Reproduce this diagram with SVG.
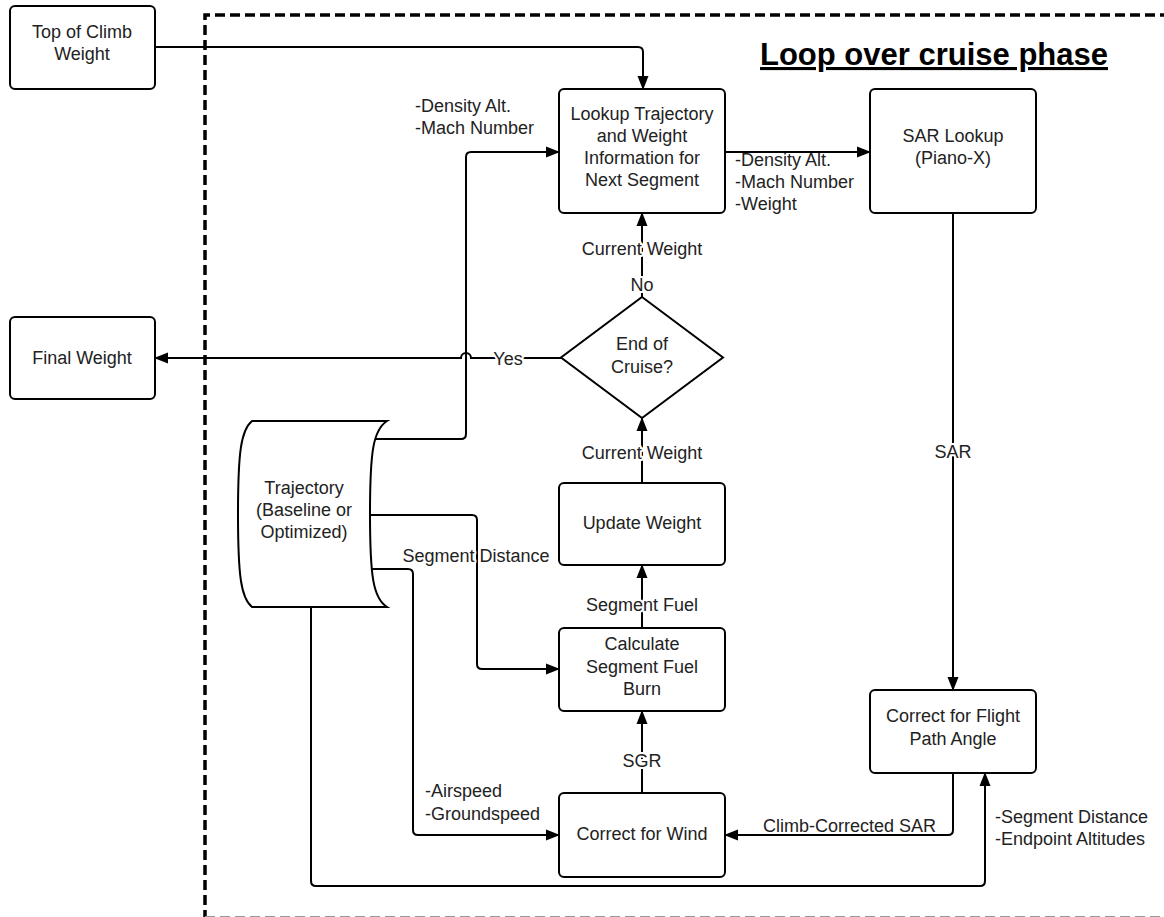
<svg xmlns="http://www.w3.org/2000/svg" width="1164" height="917" viewBox="0 0 1164 917">
<style>
.box{fill:#fff;stroke:#000;stroke-width:2}
.t{font-family:"Liberation Sans",Arial,sans-serif;font-size:18px;fill:#222;text-anchor:middle}
.l{font-family:"Liberation Sans",Arial,sans-serif;font-size:18px;fill:#222}
.h{stroke:#fff;stroke-width:4;paint-order:stroke;stroke-linejoin:round}
.c{fill:none;stroke:#000;stroke-width:2}
</style>
<defs>
<marker id="a" markerUnits="userSpaceOnUse" markerWidth="14" markerHeight="12" refX="13" refY="6" orient="auto">
<path d="M0,0.5 L14,6 L0,11.5 Z" fill="#000"/>
</marker>
</defs>
<rect width="1164" height="917" fill="#fff"/>
<path d="M205,920 V15 H1170" fill="none" stroke="#000" stroke-width="3.5" stroke-dasharray="10 5"/>
<path d="M205,916.8 H1170" fill="none" stroke="#999" stroke-width="1.5" stroke-dasharray="10 5"/>
<g id="title">
<text x="760" y="65" font-family="Liberation Sans,Arial,sans-serif" font-size="31" font-weight="bold" text-decoration="underline" fill="#000">Loop over cruise phase</text>
</g>
<g id="connectors">
<path class="c" marker-end="url(#a)" d="M155,47 H638 Q643,47 643,52 V89"/>
<path class="c" marker-end="url(#a)" d="M373,439 H461 Q466,439 466,434 V157 Q466,152 471,152 H559"/>
<path class="c" marker-end="url(#a)" d="M725,152 H870"/>
<path class="c" marker-end="url(#a)" d="M953,213 V690"/>
<path class="c" marker-end="url(#a)" d="M953,773 V830 Q953,835 948,835 H725"/>
<path class="c" marker-end="url(#a)" d="M311,607 V881 Q311,886 316,886 H980 Q985,886 985,881 V773"/>
<path class="c" marker-end="url(#a)" d="M370,515 H472 Q477,515 477,520 V664 Q477,669 482,669 H559"/>
<path class="c" marker-end="url(#a)" d="M371,569 H408 Q413,569 413,574 V830 Q413,835 418,835 H559"/>
<path class="c" marker-end="url(#a)" d="M642,793 V711"/>
<path class="c" marker-end="url(#a)" d="M642,628 V565"/>
<path class="c" marker-end="url(#a)" d="M642,483 V418"/>
<path class="c" marker-end="url(#a)" d="M642,297 V213"/>
<path class="c" marker-end="url(#a)" d="M561,358 H471 A5,5 0 0 0 461,358 H155"/>
</g>
<g id="connector-labels">
<text class="l" x="415" y="112">-Density Alt.</text>
<text class="l" x="415" y="134">-Mach Number</text>
<text class="l" x="735" y="166">-Density Alt.</text>
<text class="l" x="735" y="188">-Mach Number</text>
<text class="l" x="735" y="210">-Weight</text>
<text class="t h" x="642" y="255">Current Weight</text>
<text class="t h" x="642" y="291">No</text>
<text class="t h" x="508" y="365">Yes</text>
<text class="t h" x="953" y="458">SAR</text>
<text class="t h" x="642" y="459">Current Weight</text>
<text class="t h" x="476" y="562">Segment Distance</text>
<text class="t h" x="642" y="611">Segment Fuel</text>
<text class="t h" x="642" y="767">SGR</text>
<text class="l" x="425" y="797">-Airspeed</text>
<text class="l" x="425" y="820">-Groundspeed</text>
<text class="l h" x="763" y="832">Climb-Corrected SAR</text>
<text class="l" x="995" y="823">-Segment Distance</text>
<text class="l" x="995" y="845">-Endpoint Altitudes</text>
</g>
<g id="top-of-climb">
<rect class="box" x="10" y="6" width="145" height="83" rx="5"/>
<text class="t" x="82" y="38">Top of Climb</text>
<text class="t" x="82" y="60">Weight</text>
</g>
<g id="lookup">
<rect class="box" x="559" y="89" width="166" height="124" rx="5"/>
<text class="t" x="642" y="120">Lookup Trajectory</text>
<text class="t" x="642" y="142">and Weight</text>
<text class="t" x="642" y="164">Information for</text>
<text class="t" x="642" y="186">Next Segment</text>
</g>
<g id="sar-lookup">
<rect class="box" x="870" y="89" width="166" height="124" rx="5"/>
<text class="t" x="953" y="142">SAR Lookup</text>
<text class="t" x="953" y="164">(Piano-X)</text>
</g>
<g id="final-weight">
<rect class="box" x="10" y="317" width="145" height="82" rx="5"/>
<text class="t" x="82" y="364">Final Weight</text>
</g>
<g id="end-of-cruise">
<path class="box" d="M642,297 L723,357.5 L642,418 L561,357.5 Z"/>
<text class="t" x="642" y="350">End of</text>
<text class="t" x="642" y="373">Cruise?</text>
</g>
<g id="trajectory">
<path class="box" d="M252,421 H387 C373,430 370,452 370,514 C370,576 373,598 387,607 H252 C241,598 238,576 238,514 C238,452 241,430 252,421 Z"/>
<text class="t" x="304" y="494">Trajectory</text>
<text class="t" x="304" y="516">(Baseline or</text>
<text class="t" x="304" y="538">Optimized)</text>
</g>
<g id="update-weight">
<rect class="box" x="559" y="483" width="166" height="82" rx="5"/>
<text class="t" x="642" y="529">Update Weight</text>
</g>
<g id="calc-fuel">
<rect class="box" x="559" y="628" width="166" height="83" rx="5"/>
<text class="t" x="642" y="650">Calculate</text>
<text class="t" x="642" y="673">Segment Fuel</text>
<text class="t" x="642" y="695">Burn</text>
</g>
<g id="correct-wind">
<rect class="box" x="559" y="793" width="166" height="84" rx="5"/>
<text class="t" x="642" y="840">Correct for Wind</text>
</g>
<g id="flight-path">
<rect class="box" x="870" y="690" width="166" height="83" rx="5"/>
<text class="t" x="953" y="722">Correct for Flight</text>
<text class="t" x="953" y="745">Path Angle</text>
</g>
</svg>
